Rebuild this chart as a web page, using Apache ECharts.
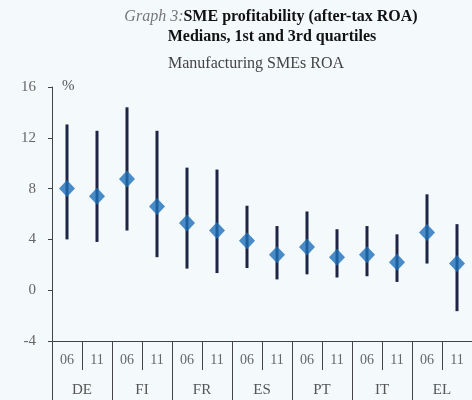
<!DOCTYPE html>
<html>
<head>
<meta charset="utf-8">
<script src="https://cdn.jsdelivr.net/npm/echarts@6/dist/echarts.min.js"></script>
<style>
  html, body { margin: 0; padding: 0; background: #f4f9fc; }
  #chart { width: 472px; height: 400px; }
</style>
</head>
<body>
<div id="chart"></div>
<script>
const years = ["06", "11", "06", "11", "06", "11", "06", "11", "06", "11", "06", "11", "06", "11"];
const countries = ["DE", "FI", "FR", "ES", "PT", "IT", "EL"];
const medians = [8.0, 7.4, 8.75, 6.6, 5.3, 4.7, 3.9, 2.8, 3.4, 2.6, 2.8, 2.2, 4.55, 2.1];
const firstQuartile = [4.0, 3.8, 4.7, 2.6, 1.7, 1.35, 1.75, 0.85, 1.25, 1.0, 1.1, 0.65, 2.1, -1.65];
const thirdQuartile = [13.05, 12.55, 14.4, 12.55, 9.65, 9.5, 6.65, 5.05, 6.2, 4.8, 5.05, 4.4, 7.55, 5.2];
const yTicks = { min: -4, max: 16, interval: 4 };

const serif = "Liberation Serif";
const chart = echarts.init(document.getElementById("chart"));

const ranges = years.map((_, i) => [i, firstQuartile[i], thirdQuartile[i]]);

chart.setOption({
  backgroundColor: "#f4f9fc",
  animation: false,
  title: [
    {
      text: "{a|Graph 3:}{b|SME profitability (after-tax ROA)}",
      left: 266,
      top: 4,
      textAlign: "center",
      textStyle: {
        rich: {
          a: { fontFamily: serif, fontStyle: "italic", fontWeight: "normal", fontSize: 16, color: "#777" },
          b: { fontFamily: serif, fontWeight: "bold", fontSize: 16, color: "#111" }
        }
      }
    },
    {
      text: "Medians, 1st and 3rd quartiles",
      left: 267,
      top: 24,
      textAlign: "center",
      textStyle: { fontFamily: serif, fontWeight: "bold", fontSize: 16, color: "#111" }
    },
    {
      text: "Manufacturing SMEs ROA",
      left: 251,
      top: 51,
      textAlign: "center",
      textStyle: { fontFamily: serif, fontWeight: "normal", fontSize: 16, color: "#444" }
    }
  ],
  graphic: [
    {
      type: "text",
      left: 62,
      top: 79,
      style: { text: "%", font: "15px " + serif, fill: "#555" }
    }
  ],
  grid: { left: 52, right: -6, top: 87, bottom: 59 },
  xAxis: [
    {
      type: "category",
      data: years,
      position: "bottom",
      axisLine: { onZero: false, lineStyle: { color: "#444", width: 1 } },
      axisTick: { show: true, length: 29, lineStyle: { color: "#444" } },
      axisLabel: { fontFamily: serif, fontSize: 14, color: "#666", margin: 12, interval: 0 }
    },
    {
      type: "category",
      data: countries,
      position: "bottom",
      axisLine: { show: false, onZero: false },
      axisTick: { show: true, length: 60, lineStyle: { color: "#444" } },
      axisLabel: { fontFamily: serif, fontSize: 15, color: "#555", margin: 42, interval: 0 }
    }
  ],
  yAxis: {
    type: "value",
    min: yTicks.min,
    max: yTicks.max,
    interval: yTicks.interval,
    splitLine: { show: false },
    axisLine: { show: true, lineStyle: { color: "#444" } },
    axisTick: { show: true, length: 4, lineStyle: { color: "#444" } },
    axisLabel: { fontFamily: serif, fontSize: 15, color: "#666", margin: 16 }
  },
  series: [
    {
      type: "custom",
      xAxisIndex: 0,
      data: ranges,
      renderItem(params, api) {
        const lo = api.coord([api.value(0), api.value(1)]);
        const hi = api.coord([api.value(0), api.value(2)]);
        return {
          type: "line",
          shape: { x1: lo[0], y1: lo[1], x2: hi[0], y2: hi[1] },
          style: { stroke: "#1e2444", lineWidth: 3 }
        };
      },
      z: 1
    },
    {
      type: "scatter",
      xAxisIndex: 0,
      data: medians,
      symbol: "diamond",
      symbolSize: [16, 17],
      itemStyle: { color: "#1d6fb8" },
      z: 2
    }
  ]
});
</script>
</body>
</html>
